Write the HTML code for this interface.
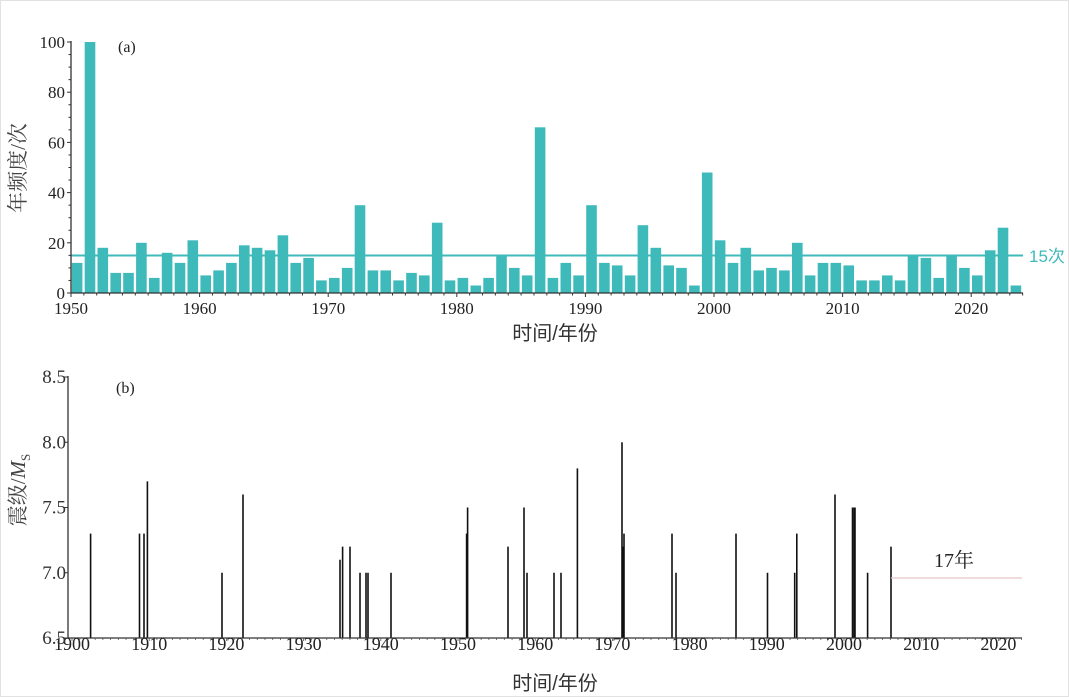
<!DOCTYPE html>
<html><head><meta charset="utf-8"><style>
html,body{margin:0;padding:0;background:#fff;}
svg{display:block;}
</style></head><body>
<svg id="s" width="1069" height="697" xmlns="http://www.w3.org/2000/svg" font-family="'Liberation Serif','Noto Serif CJK SC',serif">
<rect x="0.5" y="0.5" width="1068" height="696" fill="#fff" stroke="#e2e2e2"/>
<g id="top"></g>
<g id="bot"></g>
</svg>
<script>
var NS="http://www.w3.org/2000/svg";
function el(p,t,a,txt){var e=document.createElementNS(NS,t);for(var k in a)e.setAttribute(k,a[k]);if(txt!=null)e.textContent=txt;p.appendChild(e);return e;}
var T=document.getElementById('top'),B=document.getElementById('bot');
var x0=71,px=12.86,y0=293,py=2.51;
var v=[12,100,18,8,8,20,6,16,12,21,7,9,12,19,18,17,23,12,14,5,6,10,35,9,9,5,8,7,28,5,6,3,6,15,10,7,66,6,12,7,35,12,11,7,27,18,11,10,3,48,21,12,18,9,10,9,20,7,12,12,11,5,5,7,5,15,14,6,15,10,7,17,26,3];
for(var i=0;i<v.length;i++){var x=x0+i*px+0.8;el(T,'rect',{x:x.toFixed(1),y:(y0-v[i]*py).toFixed(1),width:10.6,height:(v[i]*py).toFixed(1),fill:'#3fbabb'});}
el(T,'line',{x1:x0,y1:255.5,x2:1023,y2:255.5,stroke:'#3fbabb','stroke-width':2});
el(T,'text',{x:1029,y:262,'font-size':17,fill:'#3fbabb','font-family':"'Liberation Sans','Noto Sans CJK SC',sans-serif"},'15次');
el(T,'line',{x1:x0,y1:y0,x2:1023,y2:y0,stroke:'#333','stroke-width':1.3});
el(T,'line',{x1:x0,y1:y0,x2:x0,y2:41,stroke:'#333','stroke-width':1.3});
for(var y=1950;y<=2024;y++){var x=x0+(y-1950)*px;el(T,'line',{x1:x,y1:y0,x2:x,y2:y0+((y%10==0)?4:2.5),stroke:'#333','stroke-width':1});
 if(y%10==0)el(T,'text',{x:x,y:314,'font-size':17,'text-anchor':'middle',fill:'#222'},y);}
for(var k=0;k<=100;k+=5){var yy=y0-k*py;el(T,'line',{x1:x0-((k%20==0)?4:2.5),y1:yy,x2:x0,y2:yy,stroke:'#333','stroke-width':1});
 if(k%20==0)el(T,'text',{x:65,y:yy+6,'font-size':17,'text-anchor':'end',fill:'#222'},k);}
el(T,'text',{x:118,y:52,'font-size':16,fill:'#222'},'(a)');
el(T,'text',{x:555,y:340,'font-size':20,'text-anchor':'middle',fill:'#333','font-family':"'Liberation Sans','Noto Sans CJK SC',sans-serif"},'时间/年份');
el(T,'text',{transform:'translate(25,168) rotate(-90)','font-size':21,'text-anchor':'middle',fill:'#444','font-family':"'Liberation Serif','Noto Serif CJK SC',serif"},'年频度/次');
var bx0=72,bpx=7.72,by0=638,bpy=130.5;
var ev=[[90.6,7.3],[139.5,7.3],[144,7.3],[147.4,7.7],[222,7.0],[243,7.6],[340,7.1],[342.6,7.2],[350,7.2],[360,7.0],[366,7.0],[368,7.0],[391,7.0],[466.6,7.3],[467.6,7.5],[508,7.2],[524,7.5],[527,7.0],[554,7.0],[561,7.0],[577.4,7.8],[622,8.0],[623,7.2],[624,7.3],[672,7.3],[676,7.0],[736,7.3],[767.5,7.0],[794.7,7.0],[796.8,7.3],[835,7.6],[852.5,7.5],[854,7.5],[855,7.5],[867.6,7.0],[891,7.2]];
ev.forEach(function(e){el(B,'line',{x1:e[0],y1:by0,x2:e[0],y2:by0-(e[1]-6.5)*bpy,stroke:'#111','stroke-width':1.6});});
el(B,'line',{x1:891,y1:578,x2:1022,y2:578,stroke:'#e6c6cb','stroke-width':1.2});
el(B,'text',{x:934,y:567,'font-size':20,fill:'#222','font-family':"'Liberation Serif','Noto Serif CJK SC',serif"},'17年');
el(B,'line',{x1:68,y1:by0,x2:1022,y2:by0,stroke:'#333','stroke-width':1.3});
el(B,'line',{x1:68,y1:by0,x2:68,y2:376,stroke:'#333','stroke-width':1.3});
for(var y=1900;y<=2023;y++){var x=bx0+(y-1900)*bpx;el(B,'line',{x1:x,y1:by0,x2:x,y2:by0+((y%10==0)?3:2),stroke:'#555','stroke-width':0.8});
 if(y%10==0)el(B,'text',{x:x,y:650,'font-size':18,'text-anchor':'middle',fill:'#222'},y);}
['6.5','7.0','7.5','8.0','8.5'].forEach(function(t,i){var yy=by0-i*0.5*bpy;el(B,'line',{x1:64,y1:yy,x2:68,y2:yy,stroke:'#333'});el(B,'text',{x:66,y:yy+6,'font-size':19,'text-anchor':'end',fill:'#333'},t);});
el(B,'text',{x:116,y:393,'font-size':16,fill:'#222'},'(b)');
el(B,'text',{x:555,y:690,'font-size':20,'text-anchor':'middle',fill:'#333','font-family':"'Liberation Sans','Noto Sans CJK SC',sans-serif"},'时间/年份');
var yt=el(B,'text',{transform:'translate(25,490) rotate(-90)','font-size':21,'text-anchor':'middle',fill:'#444'});
yt.appendChild(document.createTextNode('震级/'));
el(yt,'tspan',{'font-style':'italic'},'M');
el(yt,'tspan',{'font-size':13,dy:5},'S');
</script>
</body></html>
